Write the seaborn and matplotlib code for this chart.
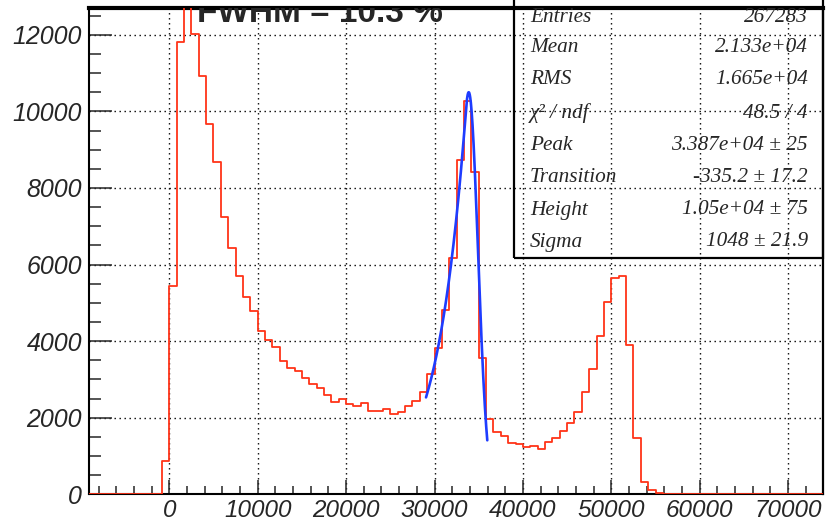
import numpy as np
import pandas as pd
import matplotlib
matplotlib.use("Agg")
import matplotlib.pyplot as plt
import seaborn as sns
from matplotlib.ticker import MultipleLocator
from matplotlib.patches import Rectangle

# ---------------- data ----------------
bin_width = 10000.0 / 12.0
first_edge = -11 * bin_width
counts = [
    0, 0, 0, 0, 0, 0, 0, 0, 0, 0,            # bins -11 .. -2
    880, 5450, 11800, 13600, 12030, 10920, 9680, 8670, 7240, 6440,
    5710, 5150, 4800, 4270, 4040, 3850, 3480, 3290, 3230, 3050,
    2870, 2770, 2590, 2420, 2500, 2350, 2310, 2390, 2170, 2180,
    2240, 2100, 2160, 2310, 2430, 2660, 3150, 3830, 4810, 6170,
    8720, 10270, 8430, 3570, 1960, 1640, 1530, 1350, 1310, 1240,
    1270, 1180, 1360, 1480, 1660, 1870, 2160, 2680, 3270, 4130,
    5020, 5640, 5710, 3910, 1480, 310, 105, 40, 15, 6,
    3, 0, 0, 0, 0, 0, 0, 0, 0, 0,
    0, 0, 0, 0, 0, 0, 0, 0, 0, 0,
]
edges = first_edge + bin_width * np.arange(len(counts) + 1)
centers = 0.5 * (edges[:-1] + edges[1:])

# fit parameters (from the stats box)
fit_peak = 3.387e4
fit_transition = -335.2
fit_height = 1.05e4
fit_sigma = 1048.0
fit_range = (29040.0, 35970.0)

stat_labels = ["Entries", "Mean", "RMS", "\u03c7\u00b2 / ndf", "Peak",
               "Transition", "Height", "Sigma"]
stat_values = ["267283", "2.133e+04", "1.665e+04", "48.5 / 4",
               "3.387e+04 \u00b1 25", "-335.2 \u00b1 17.2",
               "1.05e+04 \u00b1 75", "1048 \u00b1 21.9"]
title_text = "FWHM = 10.3 %"

x_limits = (-9083, 73980)
y_limits = (0, 12700)

# ---------------- fit curve (gaussian with exponential low tail) -------
fx = np.linspace(fit_range[0], fit_range[1], 400)
d = fx - fit_peak
gauss = np.exp(-d**2 / (2 * fit_sigma**2))
tail = np.exp(-fit_transition**2 / (2 * fit_sigma**2)) * \
    np.exp(-fit_transition * (d - fit_transition) / fit_sigma**2)
fy = fit_height * np.where(d < fit_transition, tail, gauss)

hist_df = pd.DataFrame({"x": centers, "w": counts})
fit_df = pd.DataFrame({"x": fx, "y": fy})

# ---------------- plot ----------------
sns.set_style("white")
plt.rcParams["font.family"] = ["Liberation Sans", "DejaVu Sans"]

W, H = 828, 524
fig = plt.figure(figsize=(W / 100, H / 100), dpi=100)
L, R, T, B = 89, 823.3, 8, 494.3
ax = fig.add_axes([L / W, (H - B) / H, (R - L) / W, (B - T) / H])

sns.histplot(data=hist_df, x="x", weights="w", bins=[float(e) for e in edges],
             element="step", fill=False, color="#ff3418", linewidth=1.3,
             ax=ax, zorder=3)
sns.lineplot(data=fit_df, x="x", y="y", color="#1e3cff", linewidth=1.9,
             ax=ax, zorder=4)

ax.set_xlim(*x_limits)
ax.set_ylim(*y_limits)
ax.set_xlabel("")
ax.set_ylabel("")

ax.xaxis.set_major_locator(MultipleLocator(10000))
ax.xaxis.set_minor_locator(MultipleLocator(2000))
ax.yaxis.set_major_locator(MultipleLocator(2000))
ax.yaxis.set_minor_locator(MultipleLocator(500))

ax.tick_params(axis="y", which="major", direction="in", length=16.5,
               width=1.1, pad=5, labelsize=18, left=True, right=False)
ax.tick_params(axis="y", which="minor", direction="in", length=8.6,
               width=1.1, left=True, right=False)
ax.tick_params(axis="x", which="major", direction="in", length=10,
               width=1.1, pad=3.5, labelsize=17.5, bottom=True, top=False)
ax.tick_params(axis="x", which="minor", direction="in", length=5.8,
               width=1.1, bottom=True, top=False)
for lbl in ax.get_xticklabels() + ax.get_yticklabels():
    lbl.set_fontstyle("italic")
    lbl.set_family(["Liberation Sans", "DejaVu Sans"])

ax.grid(True, which="major", color="black", linestyle=(0, (1, 2.6)),
        linewidth=1.0)
ax.set_axisbelow(True)

for side, lw in [("left", 1.5), ("bottom", 1.5), ("right", 1.6), ("top", 3.0)]:
    ax.spines[side].set_visible(True)
    ax.spines[side].set_color("black")
    ax.spines[side].set_linewidth(lw)

# stats box (transparent, grid visible through it)
bx0, bx1, by1 = 514, 823.3, 258
fig.add_artist(Rectangle((bx0 / W, (H - by1) / H), (bx1 - bx0) / W,
                         by1 / H + 0.05, transform=fig.transFigure,
                         facecolor="none", edgecolor="black", linewidth=1.6,
                         clip_on=False, zorder=5))
row_y = [17, 48, 80, 113, 146, 177, 210, 242]
for lab, val, yy in zip(stat_labels, stat_values, row_y):
    fig.text(530 / W, 1 - yy / H, lab, ha="left", va="center", fontsize=15.3,
             style="italic", family=["Liberation Serif", "DejaVu Serif"],
             zorder=6)
    fig.text(808 / W, 1 - yy / H, val, ha="right", va="center", fontsize=15.3,
             style="italic", family=["Liberation Serif", "DejaVu Serif"],
             zorder=6)

# title (its upper part is hidden above the frame)
ax.text(197 / W, 1 - 22 / H, title_text, ha="left", va="baseline",
        fontsize=24, fontweight="bold", transform=fig.transFigure,
        clip_on=True, family=["Liberation Sans", "DejaVu Sans"], zorder=6)

fig.savefig("out.png", dpi=100)
